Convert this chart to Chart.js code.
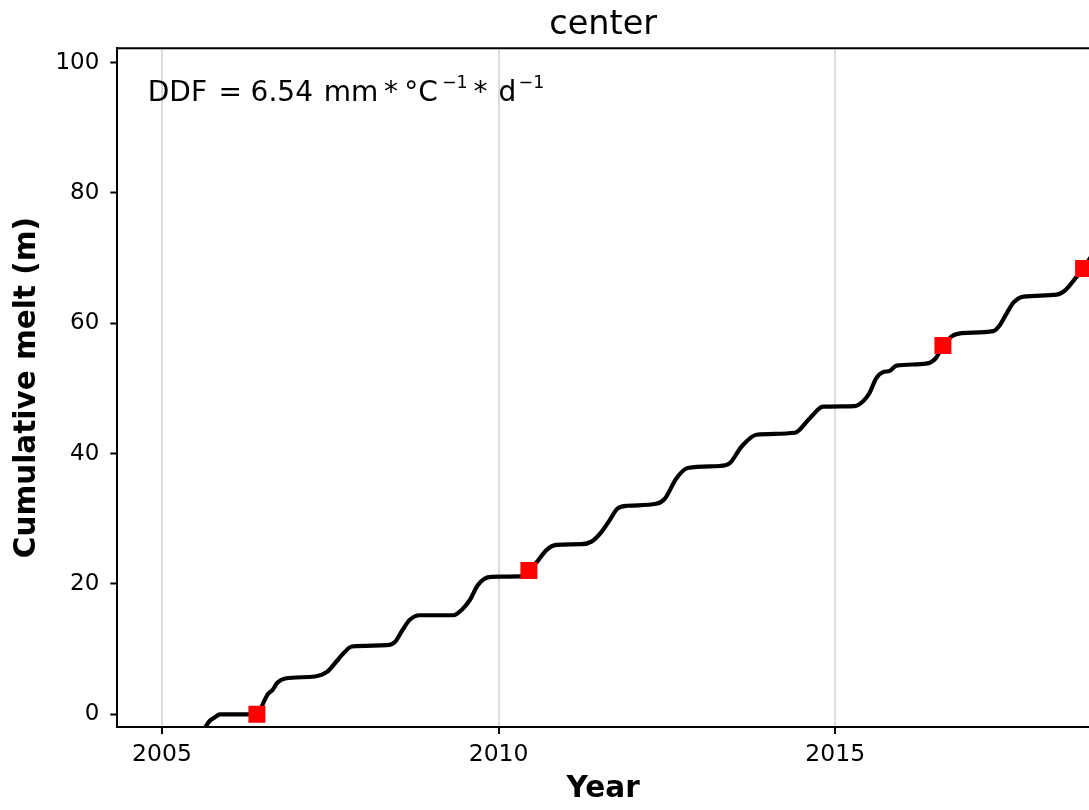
<!DOCTYPE html>
<html>
<head>
<meta charset="utf-8">
<script src="https://cdn.jsdelivr.net/npm/chart.js@4/dist/chart.umd.min.js"></script>
<style>
  html, body { margin: 0; padding: 0; background: #fff; overflow: hidden; }
  canvas { display: block; }
</style>
</head>
<body>
<canvas id="c" width="1089" height="810"></canvas>
<script>
// ---- data ----
const years = [
  2005.58, 2005.64, 2005.71, 2005.78, 2005.86, 2006.42, 2006.47, 2006.52, 2006.58, 2006.64,
  2006.71, 2006.83, 2007.27, 2007.45, 2007.59, 2007.70, 2007.82, 2008.34, 2008.46, 2008.57,
  2008.68, 2008.83, 2009.33, 2009.45, 2009.57, 2009.69, 2009.79, 2009.89, 2010.38, 2010.48,
  2010.57, 2010.71, 2010.86, 2011.23, 2011.38, 2011.53, 2011.65, 2011.77, 2011.92, 2012.34,
  2012.47, 2012.64, 2012.81, 2013.28, 2013.43, 2013.61, 2013.83, 2014.40, 2014.62, 2014.82,
  2015.29, 2015.41, 2015.51, 2015.61, 2015.71, 2015.81, 2015.91, 2016.35, 2016.49, 2016.60,
  2016.73, 2016.88, 2017.35, 2017.43, 2017.54, 2017.65, 2017.80, 2018.29, 2018.42, 2018.59,
  2018.69, 2018.80
];
const melt = [
  -2.7, -2.0, -1.0, -0.5, 0.0, 0.0, 0.9, 2.1, 3.2, 3.7,
  4.8, 5.5, 5.8, 6.5, 8.1, 9.4, 10.4, 10.6, 11.1, 12.9,
  14.5, 15.2, 15.2, 16.0, 17.5, 19.8, 20.8, 21.1, 21.2, 22.4,
  23.4, 25.2, 26.0, 26.1, 26.5, 28.0, 29.8, 31.6, 32.0, 32.3,
  33.1, 36.2, 37.8, 38.1, 38.5, 41.1, 42.9, 43.2, 45.4, 47.2,
  47.3, 48.0, 49.3, 51.6, 52.5, 52.7, 53.5, 53.8, 54.6, 56.5,
  58.0, 58.5, 58.8, 59.5, 61.4, 63.2, 64.1, 64.4, 65.1, 67.2,
  68.5, 70.2
];
const obsYears = [2006.41, 2010.45, 2016.60, 2018.69];
const obsMelt = [0.0, 22.05, 56.6, 68.4];
const xTickValues = [2005, 2010, 2015];
const yTickValues = [0, 20, 40, 60, 80, 100];
const titleText = 'center';
const xTitle = 'Year';
const yTitle = 'Cumulative melt (m)';

const linePoints = years.map((x, i) => ({ x: x, y: melt[i] }));
const obsPoints = obsYears.map((x, i) => ({ x: x, y: obsMelt[i] }));

const FONT = '"DejaVu Sans", "Liberation Sans", sans-serif';

const frame = {
  id: 'frame',
  afterDatasetsDraw(chart) {
    const { ctx, chartArea: a } = chart;
    ctx.save();
    ctx.strokeStyle = '#000';
    ctx.lineWidth = 2;
    ctx.beginPath();
    ctx.moveTo(a.left - 1, a.top);
    ctx.lineTo(a.right + 2, a.top);
    ctx.stroke();
    ctx.restore();
  }
};

const ddfLabel = {
  id: 'ddfLabel',
  afterDraw(chart) {
    const { ctx, chartArea: a } = chart;
    const base = '28px ' + FONT;
    const sup = '17.5px ' + FONT;
    const x0 = a.left;
    const yb = a.top + 52.7;
    const ys = a.top + 40;
    const pieces = [
      ['DDF', 30.5, base, yb],
      ['=', 101.2, base, yb],
      ['6.54', 133.3, base, yb],
      ['mm', 206.4, base, yb],
      ['*', 266.7, base, yb],
      ['°C', 287, base, yb],
      ['\u22121', 324.6, sup, ys],
      ['*', 356.2, base, yb],
      ['d', 381.1, base, yb],
      ['\u22121', 401.2, sup, ys]
    ];
    ctx.save();
    ctx.fillStyle = '#000';
    ctx.textAlign = 'left';
    ctx.textBaseline = 'alphabetic';
    for (const [t, dx, f, y] of pieces) {
      ctx.font = f;
      ctx.fillText(t, x0 + dx, y);
    }
    ctx.restore();
  }
};

new Chart(document.getElementById('c'), {
  type: 'line',
  data: {
    datasets: [
      {
        type: 'scatter',
        data: obsPoints,
        showLine: false,
        pointStyle: 'rect',
        pointRadius: 12,
        pointHoverRadius: 12,
        pointBorderWidth: 0,
        backgroundColor: '#ff0000',
        borderColor: '#ff0000',
        order: 0
      },
      {
        data: linePoints,
        borderColor: '#000',
        borderWidth: 4.2,
        pointRadius: 0,
        fill: false,
        cubicInterpolationMode: 'monotone',
        borderJoinStyle: 'round',
        borderCapStyle: 'round',
        clip: 0,
        order: 1
      }
    ]
  },
  options: {
    responsive: false,
    animation: false,
    devicePixelRatio: 1,
    layout: { padding: 0, autoPadding: false },
    plugins: {
      legend: { display: false },
      tooltip: { enabled: false },
      title: {
        display: true,
        text: titleText,
        fullSize: false,
        color: '#000',
        font: { family: FONT, size: 33.5, weight: 'normal', lineHeight: 1.2 },
        padding: { top: 5, bottom: 3.1 }
      }
    },
    scales: {
      x: {
        type: 'linear',
        position: 'bottom',
        min: 2004.336,
        max: 2018.77,
        afterBuildTicks: (s) => { s.ticks = xTickValues.map(v => ({ value: v })); },
        afterFit: (s) => { s.height = 83; s.paddingLeft = 0; s.paddingRight = 0; },
        grid: {
          display: true,
          drawOnChartArea: true,
          color: '#dcdcdc',
          lineWidth: 2,
          drawTicks: true,
          tickLength: 7,
          tickColor: '#000',
          tickWidth: 2
        },
        border: { display: true, color: '#000', width: 2 },
        ticks: {
          color: '#000',
          font: { family: FONT, size: 23.5, lineHeight: 1.2 },
          padding: 7,
          maxRotation: 0,
          autoSkip: false,
          callback: (v) => String(v)
        },
        title: {
          display: true,
          text: xTitle,
          color: '#000',
          font: { family: FONT, size: 29.5, weight: 'bold', lineHeight: 1.2 },
          padding: { top: 0, bottom: 3 }
        }
      },
      y: {
        type: 'linear',
        position: 'left',
        min: -1.95,
        max: 102.2,
        afterBuildTicks: (s) => { s.ticks = yTickValues.map(v => ({ value: v })); },
        afterFit: (s) => { s.width = 117.3; },
        grid: {
          display: true,
          drawOnChartArea: false,
          drawTicks: true,
          tickLength: 7,
          tickColor: '#000',
          tickWidth: 2
        },
        border: { display: true, color: '#000', width: 2 },
        ticks: {
          color: '#000',
          font: { family: FONT, size: 23, lineHeight: 1.2 },
          padding: 11,
          autoSkip: false,
          callback: (v) => String(v)
        },
        title: {
          display: true,
          text: yTitle,
          color: '#000',
          font: { family: FONT, size: 29.5, weight: 'bold', lineHeight: 1.2 },
          padding: { top: 10, bottom: 0 }
        }
      }
    }
  },
  plugins: [frame, ddfLabel]
});
</script>
</body>
</html>
